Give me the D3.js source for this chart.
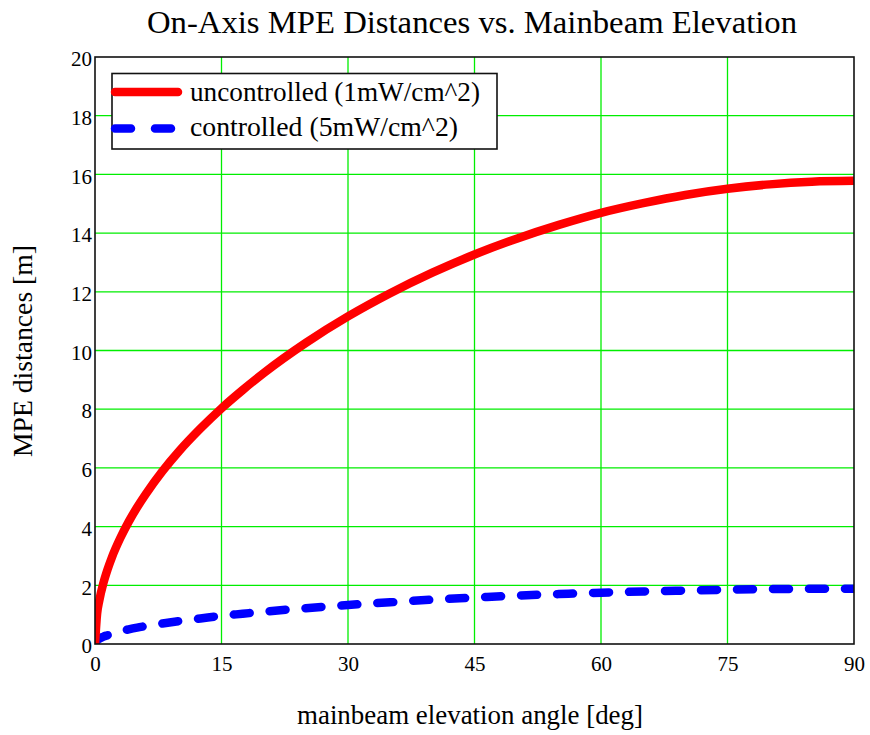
<!DOCTYPE html>
<html>
<head>
<meta charset="utf-8">
<script src="https://cdn.jsdelivr.net/npm/d3@7"></script>
<style>
  html, body { margin: 0; padding: 0; background: #fff; }
  svg text { font-family: "Liberation Serif", "Times New Roman", serif; fill: #000; }
</style>
</head>
<body>
<svg id="chart" width="870" height="735"></svg>
<script>
// Mainbeam elevation angle [deg]
const angles = [0, 0.25, 0.5, 1, 1.5, 2, 3, 4, 5, 6, 8, 10, 12.5, 15, 17.5, 20, 25, 30, 35, 40, 45, 50, 55, 60, 65, 70, 75, 80, 85, 90];
// On-axis MPE distance [m], general public limit (1 mW/cm^2)
const uncontrolled = [0, 1.04, 1.47, 2.08, 2.55, 2.95, 3.61, 4.17, 4.66, 5.10, 5.89, 6.58, 7.34, 8.03, 8.65, 9.23, 10.26, 11.16, 11.95, 12.65, 13.27, 13.81, 14.28, 14.69, 15.02, 15.30, 15.51, 15.66, 15.75, 15.78];
// On-axis MPE distance [m], occupational limit (5 mW/cm^2)
const controlled = [0, 0.12, 0.18, 0.25, 0.30, 0.35, 0.43, 0.50, 0.56, 0.61, 0.70, 0.78, 0.87, 0.96, 1.03, 1.10, 1.22, 1.33, 1.42, 1.51, 1.58, 1.65, 1.70, 1.75, 1.79, 1.82, 1.85, 1.87, 1.88, 1.88];

const xTicks = [0, 15, 30, 45, 60, 75, 90];
const yTicks = [0, 2, 4, 6, 8, 10, 12, 14, 16, 18, 20];
const seriesNames = ["uncontrolled (1mW/cm^2)", "controlled (5mW/cm^2)"];

const svg = d3.select("#chart");
const plot = { left: 95, right: 854, top: 57, bottom: 644 };

const x = d3.scaleLinear().domain([0, 90]).range([plot.left, plot.right]);
const y = d3.scaleLinear().domain([0, 20]).range([plot.bottom, plot.top]);

// grid
const grid = svg.append("g");
grid.selectAll("line.v").data(xTicks.slice(1, -1)).join("line")
  .attr("x1", d => x(d)).attr("x2", d => x(d))
  .attr("y1", plot.top).attr("y2", plot.bottom)
  .attr("stroke", "#00ee00").attr("stroke-width", 1.3);
grid.selectAll("line.h").data(yTicks.slice(1, -1)).join("line")
  .attr("x1", plot.left).attr("x2", plot.right)
  .attr("y1", d => y(d)).attr("y2", d => y(d))
  .attr("stroke", "#00ee00").attr("stroke-width", 1.3);

// axes (labels only; frame drawn separately)
const xAxis = d3.axisBottom(x).tickValues(xTicks).tickSize(0).tickPadding(12);
const yAxis = d3.axisLeft(y).tickValues(yTicks).tickSize(0).tickPadding(3);
svg.append("g").attr("transform", `translate(0,${plot.bottom})`).call(xAxis)
  .call(g => g.select(".domain").remove())
  .selectAll("text").attr("font-size", 21).attr("font-family", "Liberation Serif").attr("fill", "#000");
svg.append("g").attr("transform", `translate(${plot.left},2)`).call(yAxis)
  .call(g => g.select(".domain").remove())
  .selectAll("text").attr("font-size", 21).attr("font-family", "Liberation Serif").attr("fill", "#000");

// curves
const line = d3.line().x((d, i) => x(angles[i])).y(d => y(d)).curve(d3.curveMonotoneX);
svg.append("clipPath").attr("id", "plotclip").append("rect")
  .attr("x", plot.left).attr("y", plot.top)
  .attr("width", plot.right - plot.left).attr("height", plot.bottom - plot.top);

svg.append("path").datum(controlled)
  .attr("clip-path", "url(#plotclip)")
  .attr("d", line).attr("fill", "none")
  .attr("stroke", "#0000ff").attr("stroke-width", 8.5)
  .attr("stroke-linecap", "round").attr("stroke-dasharray", "16,20");
svg.append("path").datum(uncontrolled)
  .attr("clip-path", "url(#plotclip)")
  .attr("d", line).attr("fill", "none")
  .attr("stroke", "#ff0000").attr("stroke-width", 8.5)
  .attr("stroke-linejoin", "round");

// frame
svg.append("rect")
  .attr("x", plot.left).attr("y", plot.top)
  .attr("width", plot.right - plot.left).attr("height", plot.bottom - plot.top)
  .attr("fill", "none").attr("stroke", "#111").attr("stroke-width", 1.6);

// legend
const lg = svg.append("g");
lg.append("rect").attr("x", 112).attr("y", 73.5).attr("width", 385).attr("height", 75.5)
  .attr("fill", "#fff").attr("stroke", "#111").attr("stroke-width", 1.6);
lg.append("line").attr("x1", 115).attr("x2", 178).attr("y1", 92).attr("y2", 92)
  .attr("stroke", "#ff0000").attr("stroke-width", 8.5).attr("stroke-linecap", "round");
lg.append("line").attr("x1", 115).attr("x2", 180).attr("y1", 128.5).attr("y2", 128.5)
  .attr("stroke", "#0000ff").attr("stroke-width", 8.5).attr("stroke-linecap", "round")
  .attr("stroke-dasharray", "16,24");
lg.selectAll("text").data(seriesNames).join("text")
  .attr("x", 190).attr("y", (d, i) => 100.5 + i * 35.5)
  .attr("font-size", 26.5)
  .attr("textLength", (d, i) => i === 0 ? 290 : 268)
  .attr("lengthAdjust", "spacingAndGlyphs")
  .text(d => d);

// titles
svg.append("text").attr("x", 472).attr("y", 33).attr("text-anchor", "middle")
  .attr("font-size", 31).attr("textLength", 650).attr("lengthAdjust", "spacingAndGlyphs")
  .text("On-Axis MPE Distances vs. Mainbeam Elevation");
svg.append("text").attr("x", 470).attr("y", 724).attr("text-anchor", "middle")
  .attr("font-size", 27).attr("textLength", 346).attr("lengthAdjust", "spacingAndGlyphs")
  .text("mainbeam elevation angle [deg]");
svg.append("text").attr("transform", "translate(32,351) rotate(-90)")
  .attr("text-anchor", "middle").attr("font-size", 27)
  .attr("textLength", 212).attr("lengthAdjust", "spacingAndGlyphs")
  .text("MPE distances [m]");
</script>
</body>
</html>
